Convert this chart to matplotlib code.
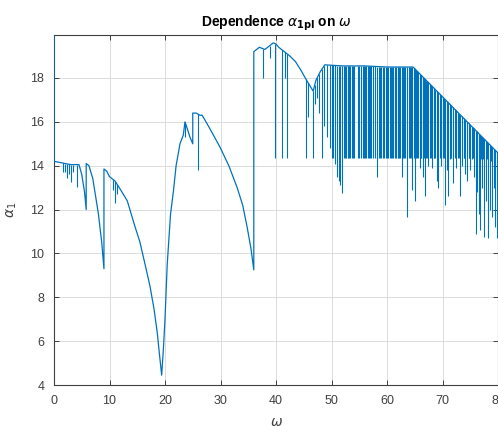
import numpy as np
import matplotlib
matplotlib.use("Agg")
import matplotlib.pyplot as plt

# base curve alpha_1(omega) (repeated x = jump)
curve_x = [0.0, 0.0, 1.0, 2.0, 3.0, 4.5, 5.0, 5.5, 5.8, 5.8, 6.3, 7.0, 8.0, 8.6, 9.0,
           9.0, 9.5, 10.0, 10.5, 11.0, 12.0, 13.2, 14.5, 15.5, 16.5, 17.3, 18.0, 18.6, 19.0, 19.4,
           19.7, 20.0, 20.4, 21.0, 21.5, 22.0, 22.7, 23.3, 23.6, 24.0, 24.5, 25.0,
           25.0, 25.6, 26.3, 26.7, 27.5, 28.5, 29.9, 31.5, 33.0, 34.0, 34.8, 35.5, 36.0,
           36.0, 36.5, 37.0, 38.0, 38.5, 39.0, 39.5, 40.0, 40.5, 41.5, 42.5, 43.5, 44.5, 45.5, 46.7,
           47.2, 48.0, 48.8, 52.0, 56.0, 60.0, 64.7, 80.5]
curve_y = [20.5, 14.2, 14.15, 14.1, 14.05, 14.05, 13.6, 12.8, 12.0, 14.1, 14.0, 13.4, 11.8, 10.5, 9.3,
           13.85, 13.75, 13.5, 13.4, 13.3, 12.9, 12.4, 11.3, 10.5, 9.4, 8.5, 7.5, 6.4, 5.4, 4.45,
           5.6, 7.0, 9.5, 11.8, 12.8, 14.0, 15.0, 15.4, 16.0, 15.7, 15.3, 15.0,
           16.4, 16.4, 16.3, 16.3, 15.95, 15.5, 14.85, 14.0, 13.0, 12.2, 11.2, 10.2, 9.25,
           19.2, 19.3, 19.4, 19.3, 19.4, 19.5, 19.6, 19.55, 19.4, 19.2, 19.0, 18.75, 18.35, 17.9, 17.4,
           17.9, 18.3, 18.6, 18.55, 18.55, 18.5, 18.5, 14.45]

# spikes hanging down from the curve: position and lowest value
spike_x = [1.6, 2.0, 2.3, 2.7, 3.0, 3.5, 4.1,
           10.7, 11.0, 11.3, 23.6, 26.0,
           37.7, 38.9, 39.8, 41.1, 41.6, 42.0, 45.4, 45.8, 46.7, 47.0, 47.4, 47.8, 48.3, 48.7,
           49.2, 49.7, 50.0, 50.3, 50.6, 51.0, 51.3, 51.5, 51.9,
           52.2, 52.4, 52.6, 52.9, 53.0, 53.2, 53.4, 53.7, 53.9, 54.0, 54.8, 55.0, 55.3, 55.6,
           55.8, 56.0, 56.2, 56.5, 56.7, 57.0, 57.2, 57.5, 57.8, 58.2, 58.5, 58.7, 59.0, 59.2,
           59.5, 59.8, 60.0, 60.2, 60.5, 60.7, 60.9, 61.1, 61.4, 61.6, 61.9, 62.0, 62.2, 62.4,
           62.7, 62.9, 63.1, 63.3, 63.6, 63.9, 64.1, 64.3, 64.5, 64.8, 65.0,
           65.3, 65.45, 65.6, 65.9, 66.05, 66.2, 66.5, 66.65, 66.8, 67.1, 67.25, 67.4, 67.7,
           67.9, 68.1, 68.4, 68.55, 68.7, 69.0, 69.2, 69.5, 69.65, 69.8, 70.1, 70.3, 70.5,
           70.8, 71.0, 71.3, 71.45, 71.6, 71.9, 72.2, 72.35, 72.5, 72.8, 73.0, 73.2, 73.5,
           73.8, 73.95, 74.1, 74.4, 74.7, 74.85, 75.0, 75.3, 75.45, 75.6, 76.0, 76.15, 76.3,
           76.6, 76.8, 76.95, 77.1, 77.3, 77.5, 77.8, 78.0, 78.2, 78.5, 78.7, 78.9, 79.2,
           79.35, 79.5, 79.8]
spike_low = [13.7, 13.7, 13.45, 13.6, 13.27, 13.7, 13.05,
             12.9, 12.3, 12.7, 15.3, 13.8,
             18.0, 18.9, 14.35, 14.35, 18.0, 14.35, 14.35, 16.2, 14.35, 16.8, 17.1, 16.4, 14.35, 15.8,
             15.3, 14.8, 14.35, 14.35, 14.1, 13.5, 13.3, 13.1, 12.75,
             14.35, 14.35, 14.35, 14.35, 14.35, 14.35, 14.35, 14.35, 14.35, 14.35, 14.35, 14.35, 14.35, 14.35,
             14.35, 14.35, 14.35, 14.35, 14.35, 14.35, 14.35, 14.35, 14.35, 13.5, 14.35, 14.35, 14.35, 14.35,
             14.35, 14.35, 14.35, 14.35, 14.35, 14.35, 14.35, 14.35, 14.35, 14.35, 14.35, 14.35, 14.35, 14.35,
             13.5, 14.35, 14.35, 14.35, 11.65, 14.35, 14.35, 14.35, 12.9, 14.35, 12.4,
             14.35, 14.35, 14.35, 13.9, 14.35, 14.35, 13.5, 14.35, 12.6, 14.35, 14.35, 14.0, 14.35,
             14.35, 13.9, 14.35, 14.35, 14.35, 13.3, 13.0, 14.35, 14.35, 14.0, 14.35, 14.35, 12.2,
             13.8, 12.6, 14.3, 14.35, 14.35, 13.2, 14.35, 14.35, 13.9, 14.35, 14.35, 12.6, 14.0,
             14.35, 14.35, 13.6, 13.3, 14.35, 14.35, 13.8, 14.3, 14.35, 13.5, 10.9, 14.3, 12.8,
             11.8, 11.05, 14.3, 13.0, 14.3, 10.75, 12.4, 14.3, 10.7, 12.0, 14.2, 11.65, 13.0,
             14.2, 11.2, 10.7]

x_ticks = [0, 10, 20, 30, 40, 50, 60, 70, 80]
y_ticks = [4, 6, 8, 10, 12, 14, 16, 18]

line_color = "#0072BD"
axis_color = "#404040"

plt.rcParams["font.family"] = ["Liberation Sans", "DejaVu Sans"]

fig = plt.figure(figsize=(4.98, 4.26), dpi=100)
ax = fig.add_axes([54 / 498, 41 / 426, 444 / 498, 350 / 426])

ax.plot(curve_x, curve_y, color=line_color, lw=0.9, zorder=3)
spike_top = np.interp(spike_x, curve_x, curve_y)
ax.vlines(spike_x, spike_low, spike_top, color=line_color, lw=0.8, zorder=3)

ax.set_xlim(0, 80)
ax.set_ylim(4, 19.96)
ax.set_xticks(x_ticks)
ax.set_yticks(y_ticks)
ax.grid(True, color="#dcdcdc", lw=0.7)
ax.set_axisbelow(True)
ax.tick_params(direction="in", length=3.5, width=0.7, colors=axis_color,
               labelsize=9, top=True, right=True, pad=7)
for sp in ax.spines.values():
    sp.set_color(axis_color)
    sp.set_linewidth(0.8)

ax.set_title(r"Dependence $\alpha_{\mathbf{1pl}}$ on $\omega$", fontsize=10,
             fontweight="bold", pad=6)
ax.set_xlabel(r"$\omega$", fontsize=10, color=axis_color, labelpad=6)
ax.set_ylabel(r"$\alpha_1$", fontsize=10, color=axis_color, labelpad=8)

fig.savefig("out.png", dpi=100)
